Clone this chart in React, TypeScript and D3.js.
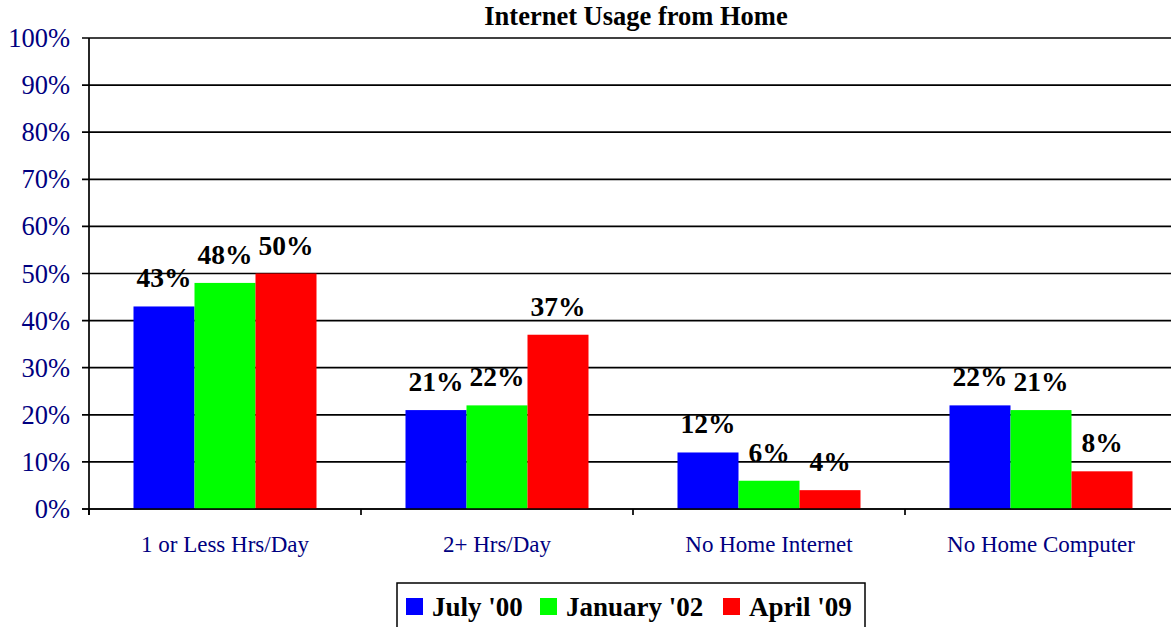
import React from "react";
import * as d3 from "d3";

const categories = ["1 or Less Hrs/Day", "2+ Hrs/Day", "No Home Internet", "No Home Computer"];
const seriesNames = ["July '00", "January '02", "April '09"];
const july00 = [43, 21, 12, 22];
const january02 = [48, 22, 6, 21];
const april09 = [50, 37, 4, 8];
const yTicks = [0, 10, 20, 30, 40, 50, 60, 70, 80, 90, 100];
const colors = ["#0000ff", "#00ff00", "#ff0000"];

const W = 1171;
const H = 627;
const FONT = "'Liberation Serif', 'Times New Roman', serif";

export default function App() {
  const seriesValues = [july00, january02, april09];
  const left = 89;
  const right = 1177;
  const top = 38;
  const bottom = 509;

  const x0 = d3.scaleBand<string>().domain(categories).range([left, right]).padding(0);
  const bw = x0.bandwidth();
  const x1 = d3
    .scaleBand<string>()
    .domain(seriesNames)
    .range([bw * 0.1636, bw * 0.8364])
    .padding(0);
  const y = d3.scaleLinear().domain([0, 100]).range([bottom, top]);

  return (
    <svg
      width={W}
      height={H}
      style={{ position: "absolute", left: 0, top: 0, background: "#fff" }}
      fontFamily={FONT}
    >
      <text x={636} y={25} textAnchor="middle" fontSize={26.5} fontWeight="bold" fill="#000">
        Internet Usage from Home
      </text>

      {yTicks.map((t) => (
        <g key={t}>
          <line x1={left - 7} x2={right} y1={y(t)} y2={y(t)} stroke="#000" strokeWidth={1.7} />
          <text x={70} y={y(t) + 9} textAnchor="end" fontSize={26.5} fill="#000080">
            {t}%
          </text>
        </g>
      ))}

      {categories.map((c, ci) => (
        <g key={c}>
          {seriesNames.map((s, si) => {
            const v = seriesValues[si][ci];
            const bx = (x0(c) as number) + (x1(s) as number);
            return (
              <rect
                key={s}
                x={bx}
                y={y(v)}
                width={x1.bandwidth()}
                height={y(0) - y(v)}
                fill={colors[si]}
              />
            );
          })}
        </g>
      ))}

      <line x1={left} x2={left} y1={top} y2={bottom + 6} stroke="#000" strokeWidth={1.7} />
      <line x1={left - 7} x2={right} y1={bottom} y2={bottom} stroke="#000" strokeWidth={1.7} />
      {categories.map((c) => (
        <line
          key={"t" + c}
          x1={x0(c) as number}
          x2={x0(c) as number}
          y1={bottom}
          y2={bottom + 6}
          stroke="#000"
          strokeWidth={1.7}
        />
      ))}

      {categories.map((c, ci) =>
        seriesNames.map((s, si) => {
          const v = seriesValues[si][ci];
          const cx = (x0(c) as number) + (x1(s) as number) + x1.bandwidth() / 2;
          return (
            <text
              key={c + s}
              x={cx}
              y={y(v) - 19}
              textAnchor="middle"
              fontSize={27.5}
              fontWeight="bold"
              fill="#000"
            >
              {v}%
            </text>
          );
        })
      )}

      {categories.map((c) => (
        <text
          key={"l" + c}
          x={(x0(c) as number) + bw / 2}
          y={552}
          textAnchor="middle"
          fontSize={23}
          fill="#000080"
        >
          {c}
        </text>
      ))}

      <rect x={397} y={583} width={468} height={60} fill="#fff" stroke="#000" strokeWidth={1.5} />
      {seriesNames.map((s, si) => {
        const lx = [406, 540, 723][si];
        return (
          <g key={"lg" + s}>
            <rect x={lx} y={598} width={17} height={17} fill={colors[si]} />
            <text x={lx + 26} y={616} fontSize={27} fontWeight="bold" fill="#000">
              {s}
            </text>
          </g>
        );
      })}
    </svg>
  );
}
